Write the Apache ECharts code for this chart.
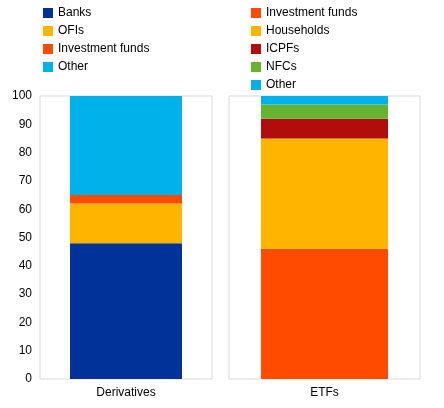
<!DOCTYPE html>
<html>
<head>
<meta charset="utf-8">
<script src="https://cdn.jsdelivr.net/npm/echarts@6/dist/echarts.min.js"></script>
<style>html,body{margin:0;padding:0;background:#fff}#main{width:444px;height:408px}</style>
</head>
<body>
<div id="main"></div>
<script>
var myChart = echarts.init(document.getElementById('main'));

var leftCategories = ['Derivatives'];
var rightCategories = ['ETFs'];
var yTicks = [0, 10, 20, 30, 40, 50, 60, 70, 80, 90, 100];

// Derivatives breakdown
var derivBanks = [48];
var derivOFIs = [14];
var derivInvFunds = [3];
var derivOther = [35];

// ETFs breakdown
var etfInvFunds = [46];
var etfHouseholds = [39];
var etfICPFs = [7];
var etfNFCs = [5];
var etfOther = [3];

var colors = {
    'Banks': '#003299',
    'OFIs': '#FFB400',
    'Households': '#FFB400',
    'Investment funds': '#FF4B00',
    'Other': '#00B1EA',
    'ICPFs': '#B20D0D',
    'NFCs': '#65B32E'
};

function bar(name, data, idx, w) {
    return {
        name: name,
        type: 'bar',
        stack: 's' + idx,
        xAxisIndex: idx,
        yAxisIndex: idx,
        barWidth: w,
        data: data,
        itemStyle: { color: colors[name] }
    };
}

var font = 'Liberation Sans, Arial, sans-serif';

option = {
    backgroundColor: '#ffffff',
    animation: false,
    textStyle: { fontFamily: font },
    legend: [{
        orient: 'vertical',
        left: 38,
        top: 2,
        itemWidth: 10,
        itemHeight: 10,
        itemGap: 6,
        icon: 'rect',
        textStyle: { fontSize: 12, color: '#000', fontFamily: font },
        data: ['Banks', 'OFIs', 'Investment funds', 'Other']
    }, {
        orient: 'vertical',
        left: 246,
        top: 2,
        itemWidth: 10,
        itemHeight: 10,
        itemGap: 6,
        icon: 'rect',
        textStyle: { fontSize: 12, color: '#000', fontFamily: font },
        data: ['Investment funds', 'Households', 'ICPFs', 'NFCs', 'Other']
    }],
    grid: [
        { left: 40, top: 96, width: 172, bottom: 29, show: true, borderColor: '#d9d9d9', borderWidth: 1 },
        { left: 229, top: 96, width: 191, bottom: 29, show: true, borderColor: '#d9d9d9', borderWidth: 1 }
    ],
    xAxis: [
        { type: 'category', gridIndex: 0, data: leftCategories, axisTick: { show: false },
          axisLine: { show: false }, axisLabel: { color: '#000', fontSize: 12, margin: 8 } },
        { type: 'category', gridIndex: 1, data: rightCategories, axisTick: { show: false },
          axisLine: { show: false }, axisLabel: { color: '#000', fontSize: 12, margin: 8 } }
    ],
    yAxis: [
        { type: 'value', gridIndex: 0, min: yTicks[0], max: yTicks[yTicks.length - 1], interval: 10,
          splitLine: { show: false }, axisLine: { show: false }, axisTick: { show: false },
          axisLabel: { color: '#000', fontSize: 12, margin: 8 } },
        { type: 'value', gridIndex: 1, min: 0, max: 100, interval: 10, show: false,
          splitLine: { show: false } }
    ],
    series: [
        bar('Banks', derivBanks, 0, 112),
        bar('OFIs', derivOFIs, 0, 112),
        bar('Investment funds', derivInvFunds, 0, 112),
        bar('Other', derivOther, 0, 112),
        bar('Investment funds', etfInvFunds, 1, 127),
        bar('Households', etfHouseholds, 1, 127),
        bar('ICPFs', etfICPFs, 1, 127),
        bar('NFCs', etfNFCs, 1, 127),
        bar('Other', etfOther, 1, 127)
    ]
};

myChart.setOption(option);
</script>
</body>
</html>
